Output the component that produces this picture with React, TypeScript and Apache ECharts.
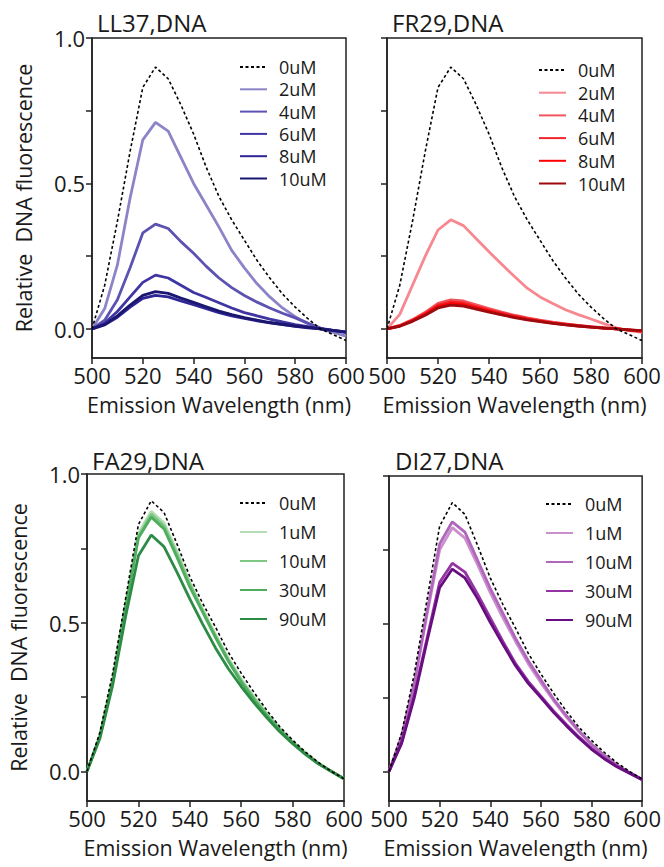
import React, { useEffect, useRef } from "react";
import * as echarts from "echarts";

// ---- data ----
const wavelengths = [500, 505, 510, 515, 520, 525, 530, 535, 540, 545, 550, 555, 560, 565, 570, 575, 580, 585, 590, 595, 600];

const ctrlTop = [0, 0.15, 0.37, 0.61, 0.83, 0.9, 0.86, 0.77, 0.67, 0.555, 0.455, 0.375, 0.305, 0.235, 0.175, 0.12, 0.075, 0.035, 0.0, -0.02, -0.04];
const ctrlBottom = [0, 0.13, 0.33, 0.58, 0.83, 0.91, 0.87, 0.765, 0.655, 0.565, 0.485, 0.4, 0.33, 0.265, 0.205, 0.15, 0.105, 0.065, 0.03, 0.0, -0.025];

const ll37_2 = [0, 0.07, 0.22, 0.45, 0.65, 0.71, 0.68, 0.59, 0.5, 0.425, 0.35, 0.27, 0.21, 0.155, 0.11, 0.072, 0.042, 0.018, 0.0, -0.012, -0.025];
const ll37_4 = [0, 0.03, 0.1, 0.21, 0.33, 0.36, 0.345, 0.3, 0.26, 0.215, 0.175, 0.142, 0.115, 0.092, 0.072, 0.054, 0.038, 0.02, 0.003, -0.006, -0.012];
const ll37_6 = [0, 0.02, 0.06, 0.11, 0.16, 0.185, 0.175, 0.15, 0.125, 0.108, 0.09, 0.072, 0.056, 0.045, 0.034, 0.024, 0.015, 0.008, 0.0, -0.006, -0.01];
const ll37_8 = [0, 0.014, 0.04, 0.075, 0.105, 0.115, 0.11, 0.096, 0.083, 0.07, 0.056, 0.045, 0.036, 0.028, 0.021, 0.015, 0.009, 0.004, 0.0, -0.005, -0.01];
const ll37_10 = [0, 0.015, 0.045, 0.082, 0.115, 0.128, 0.122, 0.106, 0.091, 0.076, 0.061, 0.049, 0.039, 0.03, 0.022, 0.016, 0.01, 0.005, 0.0, -0.005, -0.012];

const fr29_2 = [0, 0.05, 0.15, 0.25, 0.34, 0.375, 0.355, 0.31, 0.265, 0.222, 0.18, 0.14, 0.11, 0.087, 0.066, 0.049, 0.034, 0.018, 0.004, -0.006, -0.012];
const fr29_4 = [0, 0.012, 0.032, 0.057, 0.088, 0.1, 0.096, 0.083, 0.07, 0.058, 0.047, 0.038, 0.03, 0.023, 0.017, 0.012, 0.008, 0.004, 0.0, -0.004, -0.008];
const fr29_6 = [0, 0.011, 0.03, 0.053, 0.082, 0.093, 0.089, 0.077, 0.065, 0.054, 0.044, 0.035, 0.028, 0.021, 0.016, 0.011, 0.007, 0.003, 0.0, -0.004, -0.008];
const fr29_8 = [0, 0.01, 0.028, 0.05, 0.077, 0.087, 0.083, 0.072, 0.061, 0.05, 0.041, 0.033, 0.026, 0.02, 0.015, 0.01, 0.006, 0.003, 0.0, -0.003, -0.007];
const fr29_10 = [0, 0.009, 0.026, 0.047, 0.072, 0.082, 0.078, 0.068, 0.058, 0.048, 0.039, 0.031, 0.025, 0.019, 0.014, 0.01, 0.006, 0.003, 0.0, -0.003, -0.006];

const fa29_1 = [0, 0.12, 0.31, 0.56, 0.8, 0.875, 0.835, 0.74, 0.635, 0.545, 0.46, 0.38, 0.31, 0.25, 0.195, 0.145, 0.1, 0.062, 0.028, 0.0, -0.025];
const fa29_10 = [0, 0.12, 0.305, 0.555, 0.79, 0.865, 0.825, 0.73, 0.63, 0.54, 0.455, 0.375, 0.305, 0.245, 0.19, 0.14, 0.098, 0.06, 0.027, 0.0, -0.025];
const fa29_30 = [0, 0.115, 0.3, 0.55, 0.785, 0.855, 0.815, 0.72, 0.62, 0.535, 0.45, 0.37, 0.3, 0.24, 0.187, 0.138, 0.096, 0.058, 0.026, 0.0, -0.025];
const fa29_90 = [0, 0.11, 0.29, 0.52, 0.725, 0.795, 0.755, 0.67, 0.58, 0.495, 0.415, 0.345, 0.285, 0.23, 0.18, 0.133, 0.093, 0.057, 0.025, 0.0, -0.025];

const di27_1 = [0, 0.115, 0.295, 0.53, 0.75, 0.825, 0.79, 0.7, 0.605, 0.52, 0.44, 0.365, 0.3, 0.24, 0.185, 0.135, 0.09, 0.053, 0.02, -0.004, -0.027];
const di27_10 = [0, 0.12, 0.3, 0.54, 0.77, 0.845, 0.81, 0.715, 0.62, 0.535, 0.45, 0.375, 0.31, 0.245, 0.19, 0.138, 0.093, 0.055, 0.022, -0.003, -0.027];
const di27_30 = [0, 0.1, 0.26, 0.45, 0.64, 0.705, 0.675, 0.6, 0.52, 0.44, 0.365, 0.305, 0.255, 0.205, 0.16, 0.117, 0.078, 0.045, 0.018, -0.005, -0.027];
const di27_90 = [0, 0.095, 0.25, 0.44, 0.622, 0.685, 0.655, 0.585, 0.505, 0.43, 0.358, 0.298, 0.25, 0.2, 0.155, 0.113, 0.075, 0.043, 0.016, -0.006, -0.028];

const yTickValues = [0, 0.25, 0.5, 0.75, 1.0];
const yLabelValues = [0, 0.5, 1.0];
const titles = ["LL37,DNA", "FR29,DNA", "FA29,DNA", "DI27,DNA"];
const xName = "Emission Wavelength (nm)";
const yName = "Relative  DNA fluorescence";

const FONT = "Open Sans";
const INK = "#1a1a1a";

type Line = { label: string; values: number[]; color: string; dashed?: boolean };

const panelLines: Line[][] = [
  [
    { label: "0uM", values: ctrlTop, color: "#000000", dashed: true },
    { label: "2uM", values: ll37_2, color: "#8B84C7" },
    { label: "4uM", values: ll37_4, color: "#5B52B2" },
    { label: "6uM", values: ll37_6, color: "#3F35A3" },
    { label: "8uM", values: ll37_8, color: "#2E2596" },
    { label: "10uM", values: ll37_10, color: "#1B1670" },
  ],
  [
    { label: "0uM", values: ctrlTop, color: "#000000", dashed: true },
    { label: "2uM", values: fr29_2, color: "#F7888F" },
    { label: "4uM", values: fr29_4, color: "#F2555E" },
    { label: "6uM", values: fr29_6, color: "#F0262E" },
    { label: "8uM", values: fr29_8, color: "#FF0000" },
    { label: "10uM", values: fr29_10, color: "#9E0B0F" },
  ],
  [
    { label: "0uM", values: ctrlBottom, color: "#000000", dashed: true },
    { label: "1uM", values: fa29_1, color: "#B5DDB5" },
    { label: "10uM", values: fa29_10, color: "#7DC683" },
    { label: "30uM", values: fa29_30, color: "#4EAE5E" },
    { label: "90uM", values: fa29_90, color: "#2C8B45" },
  ],
  [
    { label: "0uM", values: ctrlBottom, color: "#000000", dashed: true },
    { label: "1uM", values: di27_1, color: "#CC8FCE" },
    { label: "10uM", values: di27_10, color: "#B066BB" },
    { label: "30uM", values: di27_30, color: "#9533A5" },
    { label: "90uM", values: di27_90, color: "#680E80" },
  ],
];

// layout (pixels)
const grids = [
  { left: 92, top: 38, width: 254, height: 320 },
  { left: 387, top: 38, width: 255, height: 320 },
  { left: 87, top: 474, width: 257, height: 327 },
  { left: 389, top: 476, width: 259, height: 325 },
];
const legendPos = [
  { left: 239, top: 58, gap: 4.3 },
  { left: 538, top: 61, gap: 4.7 },
  { left: 239, top: 494, gap: 11 },
  { left: 545, top: 495, gap: 11 },
];
const titlePos = [
  { x: 97, y: 22 },
  { x: 392, y: 22 },
  { x: 92, y: 460 },
  { x: 395, y: 460 },
];

export default function App() {
  const ref = useRef<HTMLDivElement>(null);
  useEffect(() => {
    if (!ref.current) return;
    const chart = echarts.init(ref.current, undefined, { renderer: "svg" });
    const axisLineStyle = { color: "#222", width: 1.5 };

    const xAxis = grids.map((_, i) => ({
      type: "value",
      gridIndex: i,
      min: 500,
      max: 600,
      interval: 20,
      axisLine: { show: true, onZero: false, lineStyle: axisLineStyle },
      axisTick: { show: true, inside: false, length: 6, lineStyle: axisLineStyle },
      axisLabel: { fontSize: 22, fontFamily: FONT, color: INK, margin: 6 },
      splitLine: { show: false },
      name: xName,
      nameLocation: "middle",
      nameGap: 35,
      nameTextStyle: { fontSize: 21.5, fontFamily: FONT, color: INK },
    }));

    const yAxis = grids.map((_, i) => ({
      type: "value",
      gridIndex: i,
      min: -0.1,
      max: 1.0,
      axisLine: { show: true, onZero: false, lineStyle: axisLineStyle },
      axisTick: { show: true, inside: false, length: 6, lineStyle: axisLineStyle, customValues: yTickValues },
      axisLabel: {
        show: i % 2 === 0,
        customValues: yLabelValues,
        formatter: (v: number) => v.toFixed(1),
        fontSize: 22,
        fontFamily: FONT,
        color: INK,
        margin: 7,
      },
      splitLine: { show: false },
      name: i % 2 === 0 ? yName : "",
      nameLocation: "middle",
      nameGap: 58,
      nameTextStyle: { fontSize: 21.5, fontFamily: FONT, color: INK },
    }));

    const series: any[] = [];
    panelLines.forEach((lines, p) => {
      lines.forEach((ln) => {
        series.push({
          type: "line",
          name: `${p}|${ln.label}`,
          xAxisIndex: p,
          yAxisIndex: p,
          data: wavelengths.map((w, k) => [w, ln.values[k]]),
          symbol: "none",
          silent: true,
          z: ln.dashed ? 4 : 3,
          lineStyle: {
            color: ln.color,
            width: ln.dashed ? 1.6 : 2.8,
            type: ln.dashed ? [3, 2.5] : "solid",
          },
          itemStyle: { color: ln.color },
        });
      });
    });

    const legend = panelLines.map((lines, p) => ({
      orient: "vertical",
      left: legendPos[p].left,
      top: legendPos[p].top,
      padding: 0,
      itemWidth: 27,
      itemHeight: 14,
      itemGap: legendPos[p].gap,
      selectedMode: false,
      data: lines.map((ln) => `${p}|${ln.label}`),
      formatter: (n: string) => n.split("|")[1],
      itemStyle: { color: "transparent", borderColor: "transparent", borderWidth: 0, opacity: 0 },
      textStyle: { fontSize: 18, fontFamily: FONT, color: INK, padding: [0, 0, 0, 7] },
    }));

    const graphic = titles.map((t, i) => ({
      type: "text",
      x: titlePos[i].x,
      y: titlePos[i].y,
      style: { text: t, fontSize: 24, fontFamily: FONT, fill: INK, verticalAlign: "middle", align: "left" },
    }));

    chart.setOption({
      animation: false,
      backgroundColor: "#ffffff",
      grid: grids.map((g) => ({ ...g, show: true, borderColor: "#222", borderWidth: 1.5, backgroundColor: "transparent" })),
      xAxis,
      yAxis,
      series,
      legend,
      graphic,
    } as any);
    return () => chart.dispose();
  }, []);
  return <div ref={ref} style={{ position: "absolute", left: 0, top: 0, width: 664, height: 867 }} />;
}
